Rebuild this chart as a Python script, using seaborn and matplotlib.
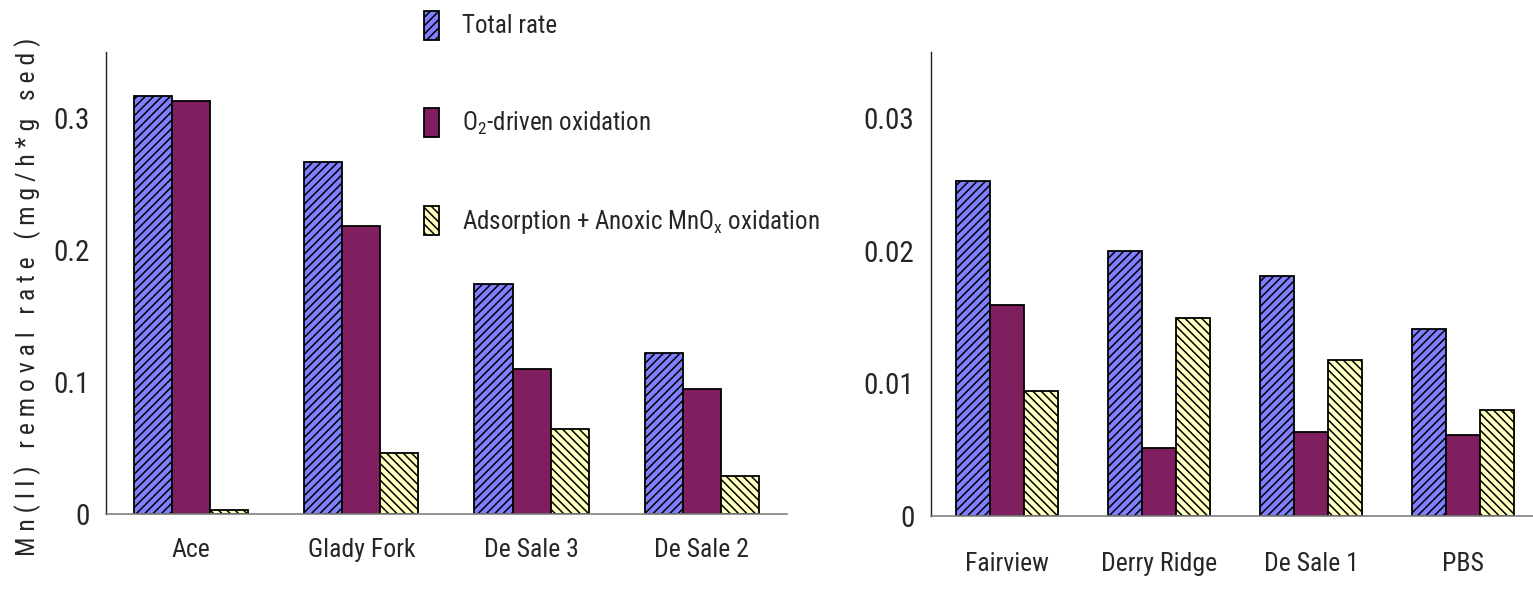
import matplotlib
matplotlib.use("Agg")
import matplotlib.pyplot as plt
from matplotlib import font_manager
from matplotlib.patches import Patch
import seaborn as sns
import pandas as pd

# Sites and measured Mn(II) removal rates (mg/h*g sed)
sites_high = ["Ace", "Glady Fork", "De Sale 3", "De Sale 2"]
total_high = [0.317, 0.267, 0.174, 0.122]
o2_high = [0.313, 0.218, 0.110, 0.095]
ads_high = [0.003, 0.046, 0.064, 0.029]

sites_low = ["Fairview", "Derry Ridge", "De Sale 1", "PBS"]
total_low = [0.0253, 0.0200, 0.0181, 0.0141]
o2_low = [0.0159, 0.0051, 0.0063, 0.0061]
ads_low = [0.0094, 0.0149, 0.0118, 0.0080]

processes = ["Total rate", "O$_2$-driven oxidation",
             "Adsorption + Anoxic MnO$_x$ oxidation"]
colors = ["#8080FF", "#7F1F5F", "#FFFFC0"]
hatches = ["////", "", "\\\\\\\\"]

sns.set_theme(style="white")
available = {f.name for f in font_manager.fontManager.ttflist}
family = next(f for f in ["Liberation Sans Narrow", "Roboto Condensed",
                          "Liberation Sans", "DejaVu Sans"] if f in available)
plt.rcParams["font.family"] = [family, "DejaVu Sans"]
plt.rcParams["mathtext.fontset"] = "custom"
plt.rcParams["mathtext.rm"] = family
plt.rcParams["mathtext.it"] = family
plt.rcParams["hatch.linewidth"] = 1.1
plt.rcParams["hatch.color"] = "black"


def long_form(sites, total, o2, ads):
    rows = []
    for series, vals in zip(processes, [total, o2, ads]):
        for s, v in zip(sites, vals):
            rows.append({"site": s, "process": series, "rate": v})
    return pd.DataFrame(rows)


fig = plt.figure(figsize=(15.33, 5.92), dpi=100)
ax1 = fig.add_axes([0.0691, 0.1318, 0.4442, 0.7804])
ax2 = fig.add_axes([0.6073, 0.1284, 0.3966, 0.7838])


def draw(ax, df, ylim, yticks, yfmt, label_pad):
    sns.barplot(data=df, x="site", y="rate", hue="process",
                hue_order=processes, palette=colors, saturation=1,
                width=0.67, edgecolor="black", linewidth=1.3,
                legend=False, ax=ax)
    for cont, h in zip(ax.containers, hatches):
        for bar in cont:
            bar.set_hatch(h)
    ax.set_xlim(-0.5, 3.5)
    ax.set_ylim(*ylim)
    ax.set_yticks(yticks)
    ax.set_yticklabels([yfmt(v) for v in yticks])
    ax.set_xlabel("")
    ax.set_ylabel("")
    ax.set_xticks([-0.5, 0.5, 1.5, 2.5, 3.5], minor=True)
    ax.tick_params(axis="x", which="major", length=0, pad=label_pad,
                   labelsize=18.5)
    ax.tick_params(axis="x", which="minor", length=12, width=1.0,
                   color="#808080", direction="out")
    ax.tick_params(axis="y", which="major", length=5, width=1.0,
                   color="#404040", direction="out", pad=7, labelsize=21)
    for side in ["top", "right"]:
        ax.spines[side].set_visible(False)
    ax.spines["left"].set_color("#202020")
    ax.spines["left"].set_linewidth(1.0)
    ax.spines["bottom"].set_color("#808080")
    ax.spines["bottom"].set_linewidth(1.2)
    ax.grid(False)


draw(ax1, long_form(sites_high, total_high, o2_high, ads_high),
     (0, 0.35), [0, 0.1, 0.2, 0.3],
     lambda v: "0" if v == 0 else f"{v:.1f}", 17)
draw(ax2, long_form(sites_low, total_low, o2_low, ads_low),
     (0, 0.035), [0, 0.01, 0.02, 0.03],
     lambda v: "0" if v == 0 else f"{v:.2f}", 26)

ylabel = "Mn(II) removal rate (mg/h*g sed)"
fig.text(0.018, 1 - 297 / 592, " ".join(ylabel), rotation=90,
         ha="center", va="center", fontsize=18.5)

handles = [Patch(facecolor=c, edgecolor="black", hatch=h, linewidth=1.3)
           for c, h in zip(colors, hatches)]
fig.legend(handles, processes, loc="upper left",
           bbox_to_anchor=(0.262, 1.02), frameon=False, fontsize=18,
           handlelength=0.6, handleheight=1.4, handletextpad=0.9,
           labelspacing=2.75)

fig.savefig("out.png", dpi=100)
